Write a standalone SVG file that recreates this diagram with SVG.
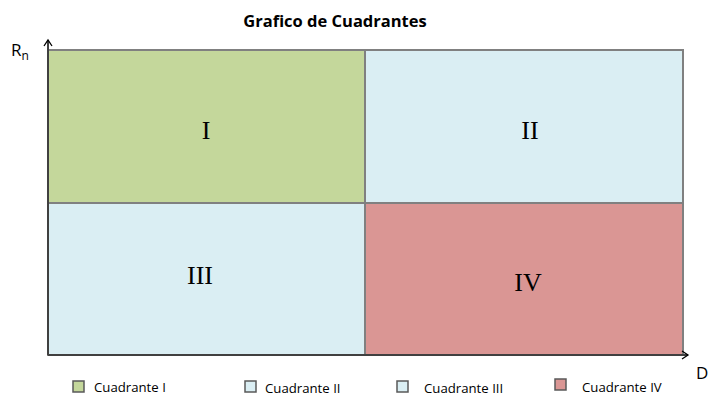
<svg xmlns="http://www.w3.org/2000/svg" width="709" height="397" viewBox="0 0 709 397">
<style>
.q{stroke:#808080;stroke-width:2}
.lab{font-family:"Liberation Serif",serif;font-size:26px;fill:#000;text-anchor:middle}
.leg{font-family:"Open Sans","Liberation Sans",sans-serif;font-size:13.2px;fill:#000}
.sw{stroke:#595959;stroke-width:1.5}
.ax{stroke:#000;stroke-width:1.3;fill:none}
</style>
<rect width="709" height="397" fill="#fff"/>
<text x="335" y="27" font-family="'Open Sans','Liberation Sans',sans-serif" font-size="16.5" font-weight="bold" text-anchor="middle">Grafico de Cuadrantes</text>
<g id="q1"><rect class="q" x="48" y="50" width="317" height="153" fill="#C4D79B"/><text class="lab" x="206" y="139">I</text></g>
<g id="q2"><rect class="q" x="365" y="50" width="318" height="153" fill="#DAEEF3"/><text class="lab" x="530" y="139">II</text></g>
<g id="q3"><rect class="q" x="48" y="203" width="317" height="152" fill="#DAEEF3"/><text class="lab" x="200" y="284">III</text></g>
<g id="q4"><rect class="q" x="365" y="203" width="318" height="152" fill="#DA9694"/><text class="lab" x="528" y="291">IV</text></g>
<g id="axes">
<line x1="48" y1="355" x2="48" y2="40" stroke="#404040" stroke-width="2"/>
<polyline class="ax" points="44,46 48,40 52,46"/>
<line x1="48" y1="355" x2="688" y2="355" stroke="#404040" stroke-width="2"/>
<polyline class="ax" points="682,351 688,355 682,359"/>
</g>
<text x="11" y="56" font-family="'Open Sans','Liberation Sans',sans-serif" font-size="17">R<tspan font-size="12" dy="4">n</tspan></text>
<text x="696" y="379" font-family="'Open Sans','Liberation Sans',sans-serif" font-size="17">D</text>
<g id="legend">
<rect class="sw" x="73" y="381" width="11" height="11" fill="#C4D79B"/><text class="leg" x="94" y="392">Cuadrante I</text>
<rect class="sw" x="245" y="381" width="11" height="11" fill="#DAEEF3"/><text class="leg" x="265" y="393">Cuadrante II</text>
<rect class="sw" x="397" y="381" width="11" height="11" fill="#DAEEF3"/><text class="leg" x="424" y="393">Cuadrante III</text>
<rect class="sw" x="555" y="379" width="11" height="11" fill="#DA9694"/><text class="leg" x="582" y="392">Cuadrante IV</text>
</g>
</svg>
